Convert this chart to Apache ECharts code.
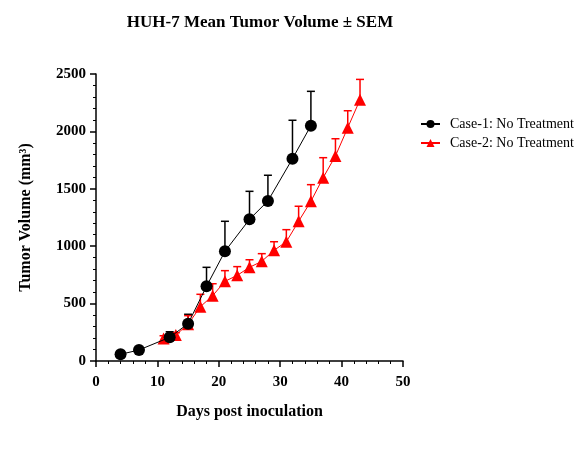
<!DOCTYPE html>
<html>
<head>
<meta charset="utf-8">
<script src="https://cdn.jsdelivr.net/npm/echarts@6/dist/echarts.min.js"></script>
<style>
html, body { margin: 0; padding: 0; background: #fff; }
#chart { width: 583px; height: 451px; }
</style>
</head>
<body>
<div id="chart"></div>
<script>
// Case-1: No Treatment
var days1 = [4, 7, 12, 15, 18, 21, 25, 28, 32, 35];
var vol1 = [58, 96, 206, 325, 651, 955, 1234, 1394, 1762, 2050];
var sem1 = [0, 0, 49, 82, 165, 262, 244, 224, 335, 299];
// Case-2: No Treatment
var days2 = [11, 13, 15, 17, 19, 21, 23, 25, 27, 29, 31, 33, 35, 37, 39, 41, 43];
var vol2 = [195, 226, 320, 473, 569, 694, 746, 816, 868, 964, 1039, 1217, 1391, 1597, 1786, 2032, 2276];
var sem2 = [25, 20, 75, 108, 104, 93, 76, 66, 67, 75, 105, 131, 145, 174, 150, 148, 177];

var names = ['Case-1: No Treatment', 'Case-2: No Treatment'];
var font = 'Liberation Serif';

function pairs(xs, ys, es) {
    var out = [];
    for (var i = 0; i < xs.length; i++) {
        out.push(es ? [xs[i], ys[i], es[i]] : [xs[i], ys[i]]);
    }
    return out;
}

// upper error bar with a cap
function errorBar(color) {
    return function(params, api) {
        var sem = api.value(2);
        if (!sem) return null;
        var p0 = api.coord([api.value(0), api.value(1)]);
        var p1 = api.coord([api.value(0), api.value(1) + sem]);
        var style = { stroke: color, lineWidth: 1.5 };
        return {
            type: 'group',
            children: [
                { type: 'line', shape: { x1: p0[0], y1: p0[1], x2: p1[0], y2: p1[1] }, style: style },
                { type: 'line', shape: { x1: p1[0] - 4, y1: p1[1], x2: p1[0] + 4, y2: p1[1] }, style: style }
            ]
        };
    };
}

var chart = echarts.init(document.getElementById('chart'));
var axisCommon = {
    axisLine: { show: true, lineStyle: { color: '#000', width: 1.5 } },
    axisTick: { show: true, length: 6, lineStyle: { color: '#000', width: 1.5 } },
    minorTick: { show: true, splitNumber: 5, length: 3, lineStyle: { color: '#000', width: 1 } },
    splitLine: { show: false },
    axisLabel: {
        color: '#000', fontFamily: font, fontSize: 15, fontWeight: 'bold',
        formatter: function(v) { return String(v); }
    },
    nameLocation: 'middle',
    nameTextStyle: { color: '#000', fontFamily: font, fontSize: 16, fontWeight: 'bold' }
};

var option = {
    animation: false,
    title: {
        text: 'HUH-7 Mean Tumor Volume ± SEM',
        left: 255,
        textAlign: 'center',
        top: 9,
        textStyle: { color: '#000', fontFamily: font, fontSize: 17, fontWeight: 'bold' }
    },
    legend: {
        orient: 'vertical',
        left: 415,
        top: 112,
        itemGap: 5,
        itemWidth: 19,
        itemHeight: 10,
        data: names,
        textStyle: { color: '#000', fontFamily: font, fontSize: 14, padding: [0, 0, 0, 5] }
    },
    grid: { left: 96, right: 180, top: 74, bottom: 90, containLabel: false },
    xAxis: Object.assign({}, axisCommon, {
        type: 'value',
        min: 0, max: 50, interval: 10,
        name: 'Days post inoculation',
        nameGap: 43,
        axisLabel: Object.assign({}, axisCommon.axisLabel, { margin: 14 })
    }),
    yAxis: Object.assign({}, axisCommon, {
        type: 'value',
        min: 0, max: 2500, interval: 500,
        name: 'Tumor Volume (mm³)',
        nameGap: 62,
        axisLabel: Object.assign({}, axisCommon.axisLabel, { margin: 10 })
    }),
    series: [
        {
            type: 'custom',
            renderItem: errorBar('#000'),
            data: pairs(days1, vol1, sem1),
            z: 1, silent: true
        },
        {
            type: 'custom',
            renderItem: errorBar('#ff0000'),
            data: pairs(days2, vol2, sem2),
            z: 1, silent: true
        },
        {
            name: names[1],
            type: 'line',
            data: pairs(days2, vol2),
            symbol: 'triangle',
            symbolSize: 12,
            itemStyle: { color: '#ff0000' },
            lineStyle: { color: '#ff0000', width: 1 },
            z: 3
        },
        {
            name: names[0],
            type: 'line',
            data: pairs(days1, vol1),
            symbol: 'circle',
            symbolSize: 12,
            itemStyle: { color: '#000' },
            lineStyle: { color: '#000', width: 1 },
            z: 4
        }
    ]
};
chart.setOption(option);
</script>
</body>
</html>
